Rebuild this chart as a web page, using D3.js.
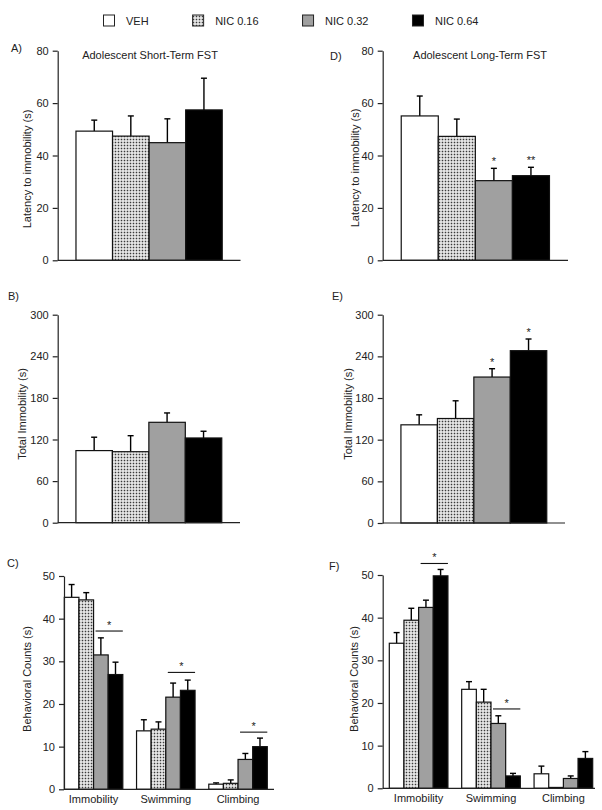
<!DOCTYPE html>
<html>
<head>
<meta charset="utf-8">
<script src="https://cdn.jsdelivr.net/npm/d3@7"></script>
<style>
  body { margin: 0; background: #fff; }
  svg text { font-family: "Liberation Sans", Arial, sans-serif; fill: #222; }
</style>
</head>
<body>
<svg id="fig" width="602" height="810"></svg>
<script>
// grupos de tratamento
const groups = ['VEH', 'NIC 0.16', 'NIC 0.32', 'NIC 0.64'];
const behaviors = ['Immobility', 'Swimming', 'Climbing'];

// A) / D) latency to immobility (mean, sem)
const latencyShortMean = [49.3, 47.4, 44.9, 57.4];
const latencyShortSem  = [4.2, 7.7, 9.1, 12.1];
const latencyLongMean  = [55.1, 47.3, 30.4, 32.3];
const latencyLongSem   = [7.6, 6.6, 4.7, 3.2];
const latencyLongStars = ['', '', '*', '**'];

// B) / E) total immobility
const immobShortMean = [104.0, 102.4, 144.8, 122.2];
const immobShortSem  = [19.3, 23.1, 13.5, 9.7];
const immobLongMean  = [141.4, 150.5, 210.2, 248.2];
const immobLongSem   = [14.4, 25.5, 12.0, 16.8];
const immobLongStars = ['', '', '*', '*'];

// C) / F) behavioral counts, one row per behavior
const countsShortMean = [[45.0, 44.4, 31.5, 26.9], [13.7, 14.1, 21.6, 23.2], [1.2, 1.4, 7.0, 10.0]];
const countsShortSem  = [[3.0, 1.7, 4.0, 2.9], [2.6, 1.7, 3.3, 2.4], [0.3, 0.8, 1.4, 2.0]];
const countsLongMean  = [[34.0, 39.4, 42.4, 49.8], [23.2, 20.2, 15.2, 2.9], [3.4, 0.2, 2.3, 7.0]];
const countsLongSem   = [[2.5, 2.8, 1.7, 1.5], [1.8, 3.0, 1.8, 0.6], [1.8, 0.0, 0.6, 1.6]];
// significance bars: behavior, level (in axis units)
const countsShortSig = [['Immobility', 37.1], ['Swimming', 27.4], ['Climbing', 13.4]];
const countsLongSig  = [['Immobility', 52.7], ['Swimming', 18.6]];

const ticks80  = [0, 20, 40, 60, 80];
const ticks300 = [0, 60, 120, 180, 240, 300];
const ticks50  = [0, 10, 20, 30, 40, 50];

const fills = ['#ffffff', 'url(#dots)', '#a0a0a0', '#000000'];
const svg = d3.select('#fig');

// padrão pontilhado
const pat = svg.append('defs').append('pattern')
  .attr('id', 'dots').attr('patternUnits', 'userSpaceOnUse')
  .attr('width', 3).attr('height', 3);
pat.append('rect').attr('width', 3).attr('height', 3).attr('fill', '#f4f4f4');
pat.append('rect').attr('x', 0.7).attr('y', 0.7).attr('width', 1.6).attr('height', 1.6).attr('fill', '#3a3a3a');

const fillOf = d3.scaleOrdinal().domain(groups).range(fills);

// legenda
let lx = 103.5;
groups.forEach(gname => {
  svg.append('rect').attr('x', lx).attr('y', 15).attr('width', 11).attr('height', 11)
    .attr('fill', fillOf(gname)).attr('stroke', '#222').attr('stroke-width', 1);
  const t = svg.append('text').attr('x', lx + 22.5).attr('y', 24.5)
    .attr('font-size', 11).text(gname);
  lx += 22.5 + t.node().getComputedTextLength() + 44;
});

function yAxis(g, y, x0, tickVals) {
  const ax = g.append('g').attr('transform', `translate(${x0},0)`)
    .call(d3.axisLeft(y).tickValues(tickVals).tickSize(5).tickSizeOuter(0).tickPadding(4));
  ax.attr('font-family', null).attr('font-size', 11);
  ax.select('.domain').attr('stroke', '#222').attr('stroke-width', 1.2);
  ax.selectAll('.tick line').attr('stroke', '#222').attr('stroke-width', 1.2);
  ax.selectAll('.tick text').attr('fill', '#222');
}

function label(g, x, y, txt, rot) {
  g.append('text').attr('transform', `translate(${x},${y})` + (rot ? ' rotate(-90)' : ''))
    .attr('text-anchor', rot ? 'middle' : 'start')
    .attr('dominant-baseline', rot ? 'central' : 'auto')
    .attr('font-size', 11).text(txt);
}

function errBar(g, cx, yTop, yMean) {
  g.append('line').attr('x1', cx).attr('x2', cx).attr('y1', yMean).attr('y2', yTop)
    .attr('stroke', '#000').attr('stroke-width', 1.4);
  g.append('line').attr('x1', cx - 3).attr('x2', cx + 3).attr('y1', yTop).attr('y2', yTop)
    .attr('stroke', '#000').attr('stroke-width', 1.4);
}

// painéis simples (A, B, D, E)
function barPanel(p) {
  const g = svg.append('g');
  const y = d3.scaleLinear().domain([0, p.max]).range([p.y0, p.y1]);
  const x = d3.scaleBand().domain(groups).range([p.x0, p.x1]).paddingInner(0).paddingOuter(0.5);
  groups.forEach((gname, i) => {
    const cx = x(gname) + x.bandwidth() / 2;
    errBar(g, cx, y(p.mean[i] + p.sem[i]), y(p.mean[i]));
  });
  g.selectAll('rect.bar').data(groups).enter().append('rect')
    .attr('class', 'bar')
    .attr('x', d => x(d)).attr('width', x.bandwidth())
    .attr('y', (d, i) => y(p.mean[i])).attr('height', (d, i) => y(0) - y(p.mean[i]))
    .attr('fill', d => fillOf(d)).attr('stroke', '#111').attr('stroke-width', 1.2);
  if (p.stars) {
    groups.forEach((gname, i) => {
      if (!p.stars[i]) return;
      g.append('text').attr('x', x(gname) + x.bandwidth() / 2).attr('y', y(p.mean[i] + p.sem[i]) - 3)
        .attr('text-anchor', 'middle').attr('font-size', 11).text(p.stars[i]);
    });
  }
  g.append('line').attr('x1', p.x0).attr('x2', p.x1).attr('y1', y(0)).attr('y2', y(0))
    .attr('stroke', '#222').attr('stroke-width', 1.2);
  yAxis(g, y, p.x0, p.ticks);
  label(g, p.lab[0], p.lab[1], p.ylabel, true);
  label(g, p.letter[0], p.letter[1], p.letter[2], false);
  if (p.title) {
    g.append('text').attr('x', p.title[0]).attr('y', p.title[1]).attr('text-anchor', 'middle')
      .attr('font-size', 11).text(p.title[2]);
  }
}

// painéis agrupados (C, F)
function groupPanel(p) {
  const g = svg.append('g');
  const y = d3.scaleLinear().domain([0, 50]).range([p.y0, p.y1]);
  const xb = d3.scaleBand().domain(behaviors).range(p.band).paddingInner(0.19).paddingOuter(0);
  const xi = d3.scaleBand().domain(groups).range([0, xb.bandwidth()]).padding(0);
  behaviors.forEach((b, bi) => {
    groups.forEach((gname, i) => {
      const cx = xb(b) + xi(gname) + xi.bandwidth() / 2;
      if (p.sem[bi][i] > 0) errBar(g, cx, y(p.mean[bi][i] + p.sem[bi][i]), y(p.mean[bi][i]));
    });
    g.selectAll('rect.b' + bi).data(groups).enter().append('rect')
      .attr('x', d => xb(b) + xi(d)).attr('width', xi.bandwidth())
      .attr('y', (d, i) => y(p.mean[bi][i])).attr('height', (d, i) => y(0) - y(p.mean[bi][i]))
      .attr('fill', d => fillOf(d)).attr('stroke', '#111').attr('stroke-width', 1.2);
    g.append('text').attr('x', xb(b) + xb.bandwidth() / 2).attr('y', p.y0 + 14)
      .attr('text-anchor', 'middle').attr('font-size', 11).text(b);
  });
  p.sig.forEach(([b, lvl]) => {
    const xa = xb(b) + xi('NIC 0.32') + 2;
    const xe = xb(b) + xi('NIC 0.64') + xi.bandwidth();
    g.append('line').attr('x1', xa).attr('x2', xe).attr('y1', y(lvl)).attr('y2', y(lvl))
      .attr('stroke', '#111').attr('stroke-width', 1.1);
    g.append('text').attr('x', (xa + xe) / 2).attr('y', y(lvl) - 2).attr('text-anchor', 'middle')
      .attr('font-size', 11).text('*');
  });
  g.append('line').attr('x1', p.x0).attr('x2', p.x1).attr('y1', y(0)).attr('y2', y(0))
    .attr('stroke', '#222').attr('stroke-width', 1.2);
  yAxis(g, y, p.x0, ticks50);
  label(g, p.lab[0], p.lab[1], 'Behavioral Counts (s)', true);
  label(g, p.letter[0], p.letter[1], p.letter[2], false);
}

barPanel({ x0: 57.7, x1: 240.5, y0: 260.3, y1: 50.7, max: 80, ticks: ticks80,
  mean: latencyShortMean, sem: latencyShortSem, ylabel: 'Latency to immobility (s)',
  lab: [27, 169], letter: [11, 52, 'A)'], title: [150, 59, 'Adolescent Short-Term FST'] });
barPanel({ x0: 382.7, x1: 568, y0: 260.3, y1: 50.7, max: 80, ticks: ticks80,
  mean: latencyLongMean, sem: latencyLongSem, stars: latencyLongStars, ylabel: 'Latency to immobility (s)',
  lab: [355, 168], letter: [330, 60, 'D)'], title: [480, 59, 'Adolescent Long-Term FST'] });
barPanel({ x0: 57.7, x1: 240, y0: 522.7, y1: 314.7, max: 300, ticks: ticks300,
  mean: immobShortMean, sem: immobShortSem, ylabel: 'Total Immobility (s)',
  lab: [21.5, 414], letter: [8, 300, 'B)'] });
barPanel({ x0: 382.7, x1: 565, y0: 523, y1: 314.7, max: 300, ticks: ticks300,
  mean: immobLongMean, sem: immobLongSem, stars: immobLongStars, ylabel: 'Total Immobility (s)',
  lab: [348, 414], letter: [332, 300, 'E)'] });
groupPanel({ x0: 64, x1: 274, band: [64.3, 267.3], y0: 789.3, y1: 576,
  mean: countsShortMean, sem: countsShortSem, sig: countsShortSig,
  lab: [26.7, 679], letter: [7, 567, 'C)'] });
groupPanel({ x0: 382.7, x1: 595, band: [389.3, 592.7], y0: 788.3, y1: 575,
  mean: countsLongMean, sem: countsLongSem, sig: countsLongSig,
  lab: [354, 679], letter: [329, 570, 'F)'] });
</script>
</body>
</html>
